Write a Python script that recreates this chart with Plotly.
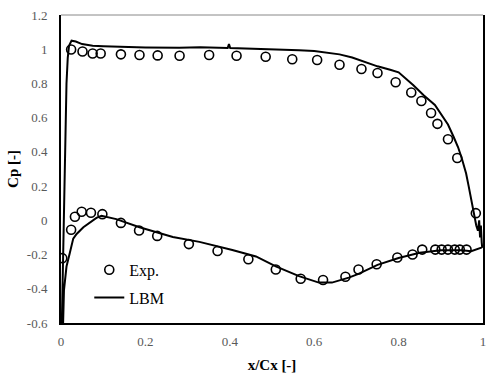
import plotly.graph_objects as go

# Experimental data (open circles)
exp_x = [0.024, 0.051, 0.075, 0.094, 0.142, 0.186, 0.229, 0.281, 0.351, 0.416, 0.485,
         0.548, 0.607, 0.660, 0.712, 0.750, 0.793, 0.830, 0.854, 0.877, 0.892, 0.917,
         0.939, 0.983,
         0.003, 0.024, 0.033, 0.049, 0.071, 0.098, 0.142, 0.185, 0.228, 0.303, 0.371,
         0.444, 0.509, 0.568, 0.621, 0.674, 0.705, 0.748, 0.797, 0.833, 0.856, 0.887,
         0.902, 0.917, 0.933, 0.945, 0.961]
exp_cp = [0.998, 0.987, 0.975, 0.975, 0.970, 0.966, 0.964, 0.962, 0.966, 0.962, 0.956,
          0.941, 0.937, 0.909, 0.884, 0.861, 0.807, 0.747, 0.697, 0.627, 0.564, 0.474,
          0.364, 0.042,
          -0.221, -0.055, 0.021, 0.050, 0.044, 0.036, -0.015, -0.059, -0.091, -0.139, -0.179,
          -0.227, -0.287, -0.341, -0.349, -0.330, -0.287, -0.257, -0.217, -0.200, -0.171, -0.171,
          -0.171, -0.171, -0.171, -0.171, -0.171]

# LBM simulation (single line: LE -> pressure side -> TE -> suction side -> LE)
lbm_x = [0.002, 0.004, 0.007, 0.010, 0.013, 0.016, 0.019, 0.025, 0.035, 0.05, 0.075, 0.10,
         0.15, 0.20, 0.28, 0.33, 0.395, 0.398, 0.401, 0.45, 0.485, 0.53, 0.564, 0.60,
         0.634, 0.66, 0.69, 0.72, 0.75, 0.78, 0.80, 0.835, 0.86, 0.886, 0.90, 0.917,
         0.93, 0.941, 0.95, 0.96, 0.966, 0.972, 0.976, 0.980,
         0.984, 0.988, 0.991, 0.993, 0.995, 0.997, 0.998, 0.996,
         0.972, 0.95, 0.90, 0.85, 0.80, 0.75, 0.705, 0.682, 0.642, 0.611, 0.564, 0.509,
         0.462, 0.406, 0.328, 0.265, 0.186, 0.131, 0.096, 0.084, 0.061, 0.053, 0.037,
         0.029, 0.021, 0.013, 0.007, 0.005]
lbm_cp = [-0.6, -0.3, 0.1, 0.5, 0.8, 0.95, 1.02, 1.05, 1.045, 1.03, 1.02, 1.017,
          1.012, 1.01, 1.008, 1.012, 1.007, 1.03, 1.007, 1.004, 1.0, 0.997, 0.994, 0.99,
          0.98, 0.97, 0.952, 0.925, 0.90, 0.88, 0.865, 0.79, 0.73, 0.674, 0.62, 0.56,
          0.49, 0.427, 0.36, 0.274, 0.2, 0.122, 0.07, 0.027,
          -0.03, -0.06, 0.0, -0.1, -0.03, -0.13, -0.155, -0.16,
          -0.18, -0.175, -0.175, -0.19, -0.22, -0.26, -0.313, -0.335, -0.364, -0.364, -0.326, -0.269,
          -0.211, -0.173, -0.126, -0.097, -0.04, 0.007, 0.027, 0.014, -0.023, -0.04, -0.08,
          -0.107, -0.19, -0.27, -0.41, -0.6]

x_ticks = [0, 0.2, 0.4, 0.6, 0.8, 1]
x_ticklabels = ["0", "0.2", "0.4", "0.6", "0.8", "1"]
y_ticks = [-0.6, -0.4, -0.2, 0, 0.2, 0.4, 0.6, 0.8, 1, 1.2]
y_ticklabels = ["-0.6", "-0.4", "-0.2", "0", "0.2", "0.4", "0.6", "0.8", "1", "1.2"]

serif = "Liberation Serif, Times New Roman, serif"

fig = go.Figure()
fig.add_trace(go.Scatter(
    x=exp_x, y=exp_cp, mode="markers", name="Exp.", legend="legend",
    marker=dict(symbol="circle-open", size=9, color="black", line=dict(width=1.6, color="black")),
))
fig.add_trace(go.Scatter(
    x=lbm_x, y=lbm_cp, mode="lines", name="LBM", legend="legend2",
    line=dict(color="black", width=2),
))

legend_font = dict(family=serif, size=16, color="black")
fig.update_layout(
    width=494, height=379,
    margin=dict(l=61, r=9, t=8, b=56),
    paper_bgcolor="white", plot_bgcolor="white",
    font=dict(family=serif, color="black"),
    showlegend=True,
    legend=dict(x=0.067, y=0.228, xanchor="left", yanchor="top",
                font=legend_font, bgcolor="rgba(0,0,0,0)", borderwidth=0),
    legend2=dict(x=0.067, y=0.138, xanchor="left", yanchor="top",
                 font=legend_font, bgcolor="rgba(0,0,0,0)", borderwidth=0),
    xaxis=dict(range=[0, 1], tickvals=x_ticks, ticktext=x_ticklabels,
               showgrid=False, zeroline=False, showline=True, linecolor="black", linewidth=2,
               ticks="", ticklabelstandoff=5,
               tickfont=dict(family=serif, size=13, color="#595959"),
               title=dict(text="<b>x/Cx [-]</b>", font=dict(family=serif, size=15, color="black"),
                          standoff=12)),
    yaxis=dict(range=[-0.6, 1.2], tickvals=y_ticks, ticktext=y_ticklabels,
               showgrid=False, zeroline=False, showline=True, mirror=True,
               linecolor="black", linewidth=2,
               ticks="", ticklabelstandoff=9,
               tickfont=dict(family=serif, size=13, color="#595959"),
               title=dict(text="<b>Cp [-]</b>", font=dict(family=serif, size=15, color="black"),
                          standoff=5)),
    shapes=[dict(type="line", xref="paper", yref="paper", x0=0, x1=1, y0=1, y1=1,
                 line=dict(color="#888888", width=1))],
)

fig.write_html("out.html", config={"displayModeBar": False},
               post_script="document.body.style.margin='0';")
